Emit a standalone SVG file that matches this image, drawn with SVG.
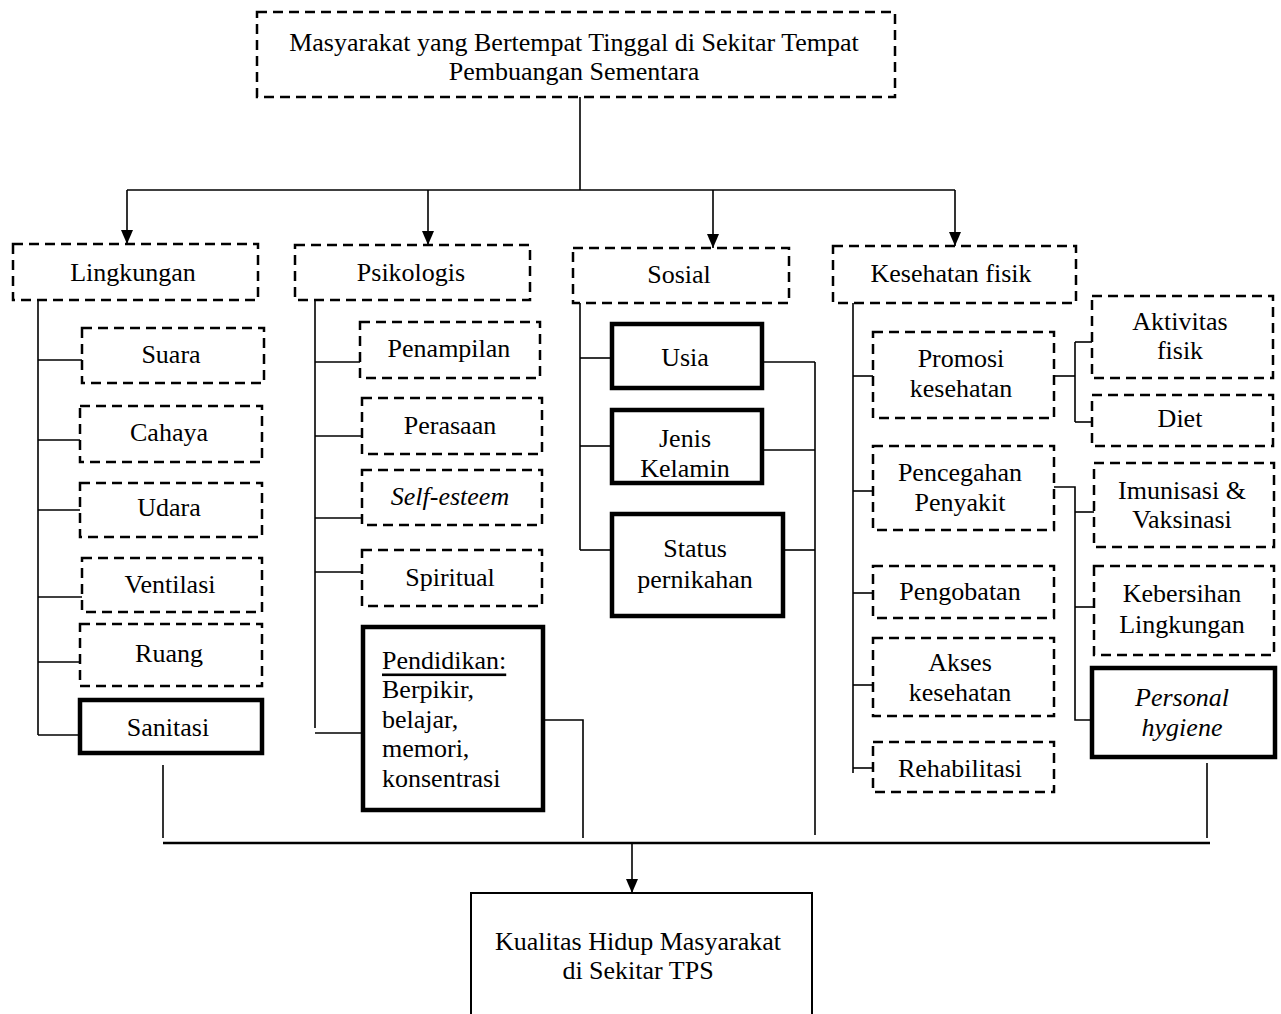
<svg xmlns="http://www.w3.org/2000/svg" width="1281" height="1014" viewBox="0 0 1281 1014">
<style>
text{font-family:"Liberation Serif","Times New Roman",serif;font-size:26px;fill:#000;text-anchor:middle;dominant-baseline:central}
.d{fill:#fff;stroke:#000;stroke-width:2.5;stroke-dasharray:10 6}
.s{fill:#fff;stroke:#000;stroke-width:4.5}
.t{fill:#fff;stroke:#000;stroke-width:2}
.c line,.c polyline{stroke:#000;stroke-width:1.6;fill:none}
.i{font-style:italic}
.l{text-anchor:start}
</style>
<defs>
<marker id="ah" markerUnits="userSpaceOnUse" markerWidth="14" markerHeight="12" refX="14" refY="6" orient="auto">
<path d="M0,0 L14,6 L0,12 z" fill="#000"/>
</marker>
</defs>
<rect width="1281" height="1014" fill="#fff"/>
<g class="c" id="connectors">
<line x1="580" y1="97" x2="580" y2="190"/>
<line x1="127" y1="190" x2="955" y2="190"/>
<line x1="127" y1="190" x2="127" y2="244" marker-end="url(#ah)"/>
<line x1="428" y1="190" x2="428" y2="245" marker-end="url(#ah)"/>
<line x1="713" y1="190" x2="713" y2="248" marker-end="url(#ah)"/>
<line x1="955" y1="190" x2="955" y2="246" marker-end="url(#ah)"/>
<line x1="38" y1="300" x2="38" y2="735"/>
<line x1="38" y1="360" x2="82" y2="360"/>
<line x1="38" y1="440" x2="80" y2="440"/>
<line x1="38" y1="510" x2="80" y2="510"/>
<line x1="38" y1="597" x2="82" y2="597"/>
<line x1="38" y1="662" x2="80" y2="662"/>
<line x1="38" y1="735" x2="80" y2="735"/>
<line x1="315" y1="300" x2="315" y2="728"/>
<line x1="315" y1="362" x2="360" y2="362"/>
<line x1="315" y1="436" x2="362" y2="436"/>
<line x1="315" y1="518" x2="362" y2="518"/>
<line x1="315" y1="572" x2="362" y2="572"/>
<line x1="315" y1="733" x2="363" y2="733"/>
<polyline points="543,720 583,720 583,838"/>
<line x1="580" y1="303" x2="580" y2="550"/>
<line x1="580" y1="358" x2="612" y2="358"/>
<line x1="580" y1="446" x2="612" y2="446"/>
<line x1="580" y1="550" x2="612" y2="550"/>
<line x1="762" y1="362" x2="815" y2="362"/>
<line x1="762" y1="450" x2="815" y2="450"/>
<line x1="783" y1="550" x2="815" y2="550"/>
<line x1="815" y1="362" x2="815" y2="835"/>
<line x1="853" y1="303" x2="853" y2="773"/>
<line x1="853" y1="376" x2="873" y2="376"/>
<line x1="853" y1="491" x2="873" y2="491"/>
<line x1="853" y1="593" x2="873" y2="593"/>
<line x1="853" y1="685" x2="873" y2="685"/>
<line x1="853" y1="768" x2="873" y2="768"/>
<polyline points="1054,376 1075,376"/>
<line x1="1075" y1="342" x2="1075" y2="422"/>
<line x1="1075" y1="342" x2="1092" y2="342"/>
<line x1="1075" y1="422" x2="1092" y2="422"/>
<polyline points="1054,487 1075,487 1075,720 1092,720"/>
<line x1="1075" y1="512" x2="1094" y2="512"/>
<line x1="1075" y1="607" x2="1094" y2="607"/>
<line x1="163" y1="765" x2="163" y2="838"/>
<line x1="1207" y1="763" x2="1207" y2="838"/>
<line x1="163" y1="843" x2="1210" y2="843" style="stroke-width:2.5"/>
<line x1="632" y1="843" x2="632" y2="893" marker-end="url(#ah)"/>
</g>
<g id="n-top"><rect class="d" x="257" y="12" width="638" height="85"/><text x="574" y="42">Masyarakat yang Bertempat Tinggal di Sekitar Tempat</text><text x="574" y="71">Pembuangan Sementara</text></g>
<g id="n-lingkungan"><rect class="d" x="13" y="244" width="245" height="56"/><text x="133" y="272">Lingkungan</text></g>
<g id="n-psikologis"><rect class="d" x="295" y="245" width="235" height="55"/><text x="411" y="272">Psikologis</text></g>
<g id="n-sosial"><rect class="d" x="573" y="248" width="216" height="55"/><text x="679" y="274">Sosial</text></g>
<g id="n-kesehatan"><rect class="d" x="833" y="246" width="243" height="57"/><text x="951" y="273">Kesehatan fisik</text></g>
<g id="n-suara"><rect class="d" x="82" y="328" width="182" height="55"/><text x="171" y="354">Suara</text></g>
<g id="n-cahaya"><rect class="d" x="80" y="406" width="182" height="56"/><text x="169" y="432">Cahaya</text></g>
<g id="n-udara"><rect class="d" x="80" y="483" width="182" height="54"/><text x="169" y="507">Udara</text></g>
<g id="n-ventilasi"><rect class="d" x="82" y="558" width="180" height="54"/><text x="170" y="584">Ventilasi</text></g>
<g id="n-ruang"><rect class="d" x="80" y="624" width="182" height="62"/><text x="169" y="653">Ruang</text></g>
<g id="n-sanitasi"><rect class="s" x="80" y="700" width="182" height="53"/><text x="168" y="727">Sanitasi</text></g>
<g id="n-penampilan"><rect class="d" x="360" y="322" width="180" height="56"/><text x="449" y="348">Penampilan</text></g>
<g id="n-perasaan"><rect class="d" x="362" y="398" width="180" height="56"/><text x="450" y="425">Perasaan</text></g>
<g id="n-selfesteem"><rect class="d" x="362" y="470" width="180" height="55"/><text class="i" x="450" y="496">Self-esteem</text></g>
<g id="n-spiritual"><rect class="d" x="362" y="550" width="180" height="56"/><text x="450" y="577">Spiritual</text></g>
<g id="n-pendidikan"><rect class="s" x="363" y="627" width="180" height="183"/><text class="l" x="382" y="660" text-decoration="underline">Pendidikan:</text><text class="l" x="382" y="689.5">Berpikir,</text><text class="l" x="382" y="719">belajar,</text><text class="l" x="382" y="748.5">memori,</text><text class="l" x="382" y="778">konsentrasi</text></g>
<g id="n-usia"><rect class="s" x="612" y="324" width="150" height="64"/><text x="685" y="357">Usia</text></g>
<g id="n-jenis"><rect class="s" x="612" y="410" width="150" height="73"/><text x="685" y="438">Jenis</text><text x="685" y="468">Kelamin</text></g>
<g id="n-status"><rect class="s" x="612" y="514" width="171" height="102"/><text x="695" y="548">Status</text><text x="695" y="579">pernikahan</text></g>
<g id="n-promosi"><rect class="d" x="873" y="332" width="181" height="86"/><text x="961" y="358">Promosi</text><text x="961" y="388">kesehatan</text></g>
<g id="n-pencegahan"><rect class="d" x="873" y="446" width="181" height="84"/><text x="960" y="472">Pencegahan</text><text x="960" y="502">Penyakit</text></g>
<g id="n-pengobatan"><rect class="d" x="873" y="566" width="181" height="52"/><text x="960" y="591">Pengobatan</text></g>
<g id="n-akses"><rect class="d" x="873" y="638" width="181" height="78"/><text x="960" y="662">Akses</text><text x="960" y="692">kesehatan</text></g>
<g id="n-rehabilitasi"><rect class="d" x="873" y="742" width="181" height="50"/><text x="960" y="768">Rehabilitasi</text></g>
<g id="n-aktivitas"><rect class="d" x="1092" y="296" width="181" height="82"/><text x="1180" y="321">Aktivitas</text><text x="1180" y="350">fisik</text></g>
<g id="n-diet"><rect class="d" x="1092" y="395" width="181" height="51"/><text x="1180" y="418">Diet</text></g>
<g id="n-imunisasi"><rect class="d" x="1094" y="463" width="180" height="84"/><text x="1182" y="490">Imunisasi &amp;</text><text x="1182" y="519">Vaksinasi</text></g>
<g id="n-kebersihan"><rect class="d" x="1094" y="566" width="180" height="89"/><text x="1182" y="593">Kebersihan</text><text x="1182" y="624">Lingkungan</text></g>
<g id="n-personal"><rect class="s" x="1092" y="668" width="183" height="89"/><text class="i" x="1182" y="697">Personal</text><text class="i" x="1182" y="727">hygiene</text></g>
<g id="n-kualitas"><rect class="t" x="471" y="893" width="341" height="140"/><text x="638" y="941">Kualitas Hidup Masyarakat</text><text x="638" y="970">di Sekitar TPS</text></g>
</svg>
